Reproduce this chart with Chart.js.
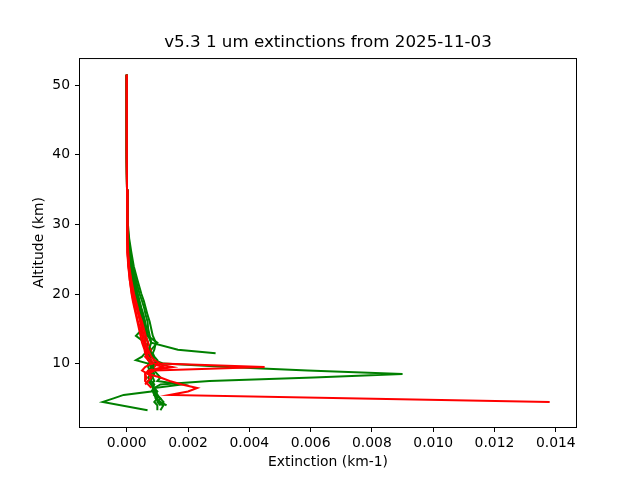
<!DOCTYPE html>
<html>
<head>
<meta charset="utf-8">
<script src="https://cdn.jsdelivr.net/npm/chart.js@4/dist/chart.umd.min.js"></script>
<style>
  html, body { margin: 0; padding: 0; background: #fff; }
  #wrap { width: 640px; height: 480px; }
</style>
</head>
<body>
<div id="wrap"><canvas id="myChart" width="640" height="480"></canvas></div>
<script>
// altitude grid (km), shared by all profiles
let altitudes = [51.5, 45, 40, 35, 30, 28, 26, 24, 22, 20, 19, 18, 17, 16, 15, 14, 13, 12, 11.5, 11, 10.5, 10, 9.5, 9, 8.5, 8, 7.5, 7, 6.5, 6, 5.5, 5, 4.5, 4, 3.3];

// green profiles (km-1), null = no value at that level
let green1 = [0, 0, 0.000005, 0.00001, 0.00003, 0.00006, 0.00012, 0.0002, 0.0003, 0.00042, 0.0005, 0.00057, 0.00062, 0.00068, 0.0007, 0.00075, 0.0008, 0.00072, 0.0008, 0.00085, 0.0009, 0.0012, 0.0033, 0.0059, 0.0090, 0.0061, 0.0027, 0.0011, 0.0009, 0.001, 0.0009, 0.0011, 0.001, 0.0011, null];
let green2 = [0, 0, 0.000005, 0.00001, 0.00002, 0.00004, 0.00009, 0.00016, 0.00026, 0.00036, 0.00042, 0.00048, 0.00055, 0.0006, 0.00065, 0.0007, 0.0008, 0.00167, 0.0029, null, null, null, null, null, null, null, null, null, null, null, null, null, null, null, null];
let green3 = [0, 0, 0.000005, 0.00001, 0.00002, 0.00005, 0.0001, 0.00017, 0.00025, 0.00035, 0.0004, 0.00046, 0.00052, 0.0006, 0.00058, 0.00065, 0.0006, 0.00068, 0.0007, 0.00075, 0.0007, 0.00085, 0.0008, 0.0009, 0.0008, 0.00085, 0.0009, 0.0008, 0.0009, 0.0008, -0.0001, -0.00043, -0.00078, null, 0.00068];
let green4 = [0, 0, 0.000005, 0.00001, 0.00004, 0.00008, 0.00015, 0.00023, 0.00035, 0.00048, 0.00056, 0.00062, 0.00068, 0.00075, 0.0008, 0.00085, 0.00095, 0.0009, 0.00085, 0.0009, 0.001, 0.0009, 0.00085, 0.0009, 0.001, 0.0011, 0.001, 0.0018, 0.0009, 0.00095, 0.001, 0.0011, 0.0012, 0.0011, null];
let green5 = [0, 0, 0.000005, 0.00001, 0.00002, 0.00003, 0.00006, 0.0001, 0.00018, 0.00028, 0.00034, 0.0004, 0.00046, 0.0005, 0.00052, 0.0003, 0.0006, 0.0007, 0.0006, 0.0005, 0.0003, 0.0007, 0.0008, 0.0007, 0.00075, 0.0008, 0.0007, 0.0008, 0.00085, 0.0009, 0.00095, 0.001, 0.0009, 0.001, 0.001];
let green6 = [0, 0, 0.000005, 0.00001, 0.00003, 0.00005, 0.0001, 0.00015, 0.00022, 0.00032, 0.00038, 0.00044, 0.0005, 0.00056, 0.0006, 0.00068, 0.001, 0.0008, 0.00075, 0.0007, 0.0008, 0.00072, 0.0007, 0.00075, 0.0008, 0.0007, 0.00075, 0.0008, 0.0009, 0.00085, 0.0009, 0.00095, 0.00105, 0.0012, 0.0011];
let green7 = [0, 0, 0.000005, 0.00001, 0.00002, 0.00004, 0.00008, 0.00013, 0.0002, 0.0003, 0.00036, 0.00042, 0.00048, 0.00054, 0.00058, 0.00062, 0.0007, 0.00065, 0.0007, 0.0008, 0.00075, 0.0009, 0.0008, 0.00085, 0.0009, 0.0008, 0.0008, 0.0009, 0.00085, 0.0009, 0.001, 0.00095, 0.0011, 0.0013, null];

// red profiles (km-1)
let red1 = [0, 0, 0.000005, 0.00001, 0.00002, 0.00003, 0.00005, 0.00008, 0.00015, 0.00024, 0.0003, 0.00036, 0.0004, 0.00045, 0.0005, 0.00055, 0.0006, 0.00065, 0.0007, 0.0006, 0.0007, 0.0008, 0.0006, 0.0005, 0.0007, 0.0011, 0.0014, 0.0018, 0.0023, 0.002, 0.0014, 0.0076, 0.0138, null, null];
let red2 = [0, 0, 0.000005, 0.00001, 0.00002, 0.00003, 0.00004, 0.00006, 0.00012, 0.0002, 0.00026, 0.00032, 0.00038, 0.00044, 0.0005, 0.00056, 0.00062, 0.0007, 0.00075, 0.0008, 0.0009, 0.0011, 0.0045, 0.0009, 0.0007, 0.0008, 0.0007, 0.0006, null, null, null, null, null, null, null];
let red3 = [0, 0, 0.000005, 0.00001, 0.00001, 0.00002, 0.00003, 0.00005, 0.0001, 0.00017, 0.00022, 0.00027, 0.00032, 0.00037, 0.00045, 0.0005, 0.00055, 0.0006, 0.00065, 0.0007, 0.0008, 0.0009, 0.0015, 0.0008, 0.0006, 0.0006, 0.0006, 0.0007, 0.0008, null, null, null, null, null, null];
let red4 = [0, 0, 0.000005, 0.00001, 0.00002, 0.00003, 0.00005, 0.00007, 0.00013, 0.00022, 0.00028, 0.00034, 0.00042, 0.0005, 0.00056, 0.00062, 0.0007, 0.00078, 0.0008, 0.00085, 0.0009, 0.001, 0.0009, 0.0008, null, null, null, null, null, null, null, null, null, null, null];
let red5 = [0, 0, 0.000005, 0.00001, 0.00001, 0.00002, 0.00004, 0.00006, 0.0001, 0.00016, 0.0002, 0.00025, 0.0003, 0.00035, 0.0004, 0.00045, 0.0005, 0.00058, 0.0006, 0.00065, 0.0007, 0.0008, 0.0012, 0.0007, 0.0006, 0.00065, 0.0006, null, null, null, null, null, null, null, null];

// tick labels
let xTicks = [0, 0.002, 0.004, 0.006, 0.008, 0.010, 0.012, 0.014];
let yTicks = [10, 20, 30, 40, 50];

function profile(ext, color) {
    return {
        data: altitudes.map((a, i) => ({ x: ext[i], y: a })).filter(p => p.x !== null),
        borderColor: color,
        backgroundColor: color,
        borderWidth: 2,
        showLine: true,
        pointRadius: 0,
        tension: 0
    };
}

// first dataset is drawn on top in Chart.js
let datasets = [
    profile(red1, '#ff0000'),
    profile(red2, '#ff0000'),
    profile(green1, '#008000'),
    profile(red3, '#ff0000'),
    profile(green2, '#008000'),
    profile(green4, '#008000'),
    profile(red4, '#ff0000'),
    profile(red5, '#ff0000'),
    profile(green3, '#008000'),
    profile(green5, '#008000'),
    profile(green6, '#008000'),
    profile(green7, '#008000')
];

let frame = {
    id: 'frame',
    afterDraw(chart) {
        let a = chart.chartArea, c = chart.ctx;
        c.save();
        c.strokeStyle = '#000';
        c.lineWidth = 1;
        c.strokeRect(a.left - 0.5, a.top + 0.5, a.right - a.left + 1, a.bottom - a.top);
        c.restore();
    }
};

let font = { family: 'DejaVu Sans', size: 13.9 };

new Chart(document.getElementById('myChart'), {
    type: 'scatter',
    data: { datasets: datasets },
    plugins: [frame],
    options: {
        responsive: false,
        animation: false,
        devicePixelRatio: 1,
        // left 16 so the title centres over the axes (x = 328)
        layout: { padding: { left: 16, right: 0, top: 0, bottom: 0 } },
        plugins: {
            legend: { display: false },
            tooltip: { enabled: false },
            title: {
                display: true,
                text: 'v5.3 1 um extinctions from 2025-11-03',
                color: '#000',
                font: { family: 'DejaVu Sans', size: 16.7, weight: 'normal' },
                padding: { top: 33, bottom: 5 }
            }
        },
        scales: {
            x: {
                type: 'linear',
                min: -0.001524,
                max: 0.014659,
                afterBuildTicks: s => { s.ticks = xTicks.map(v => ({ value: v })); },
                afterFit: s => { s.height = 53; },
                ticks: {
                    color: '#000', font: font, padding: 3, maxRotation: 0,
                    callback: v => v.toFixed(3)
                },
                grid: { drawOnChartArea: false, drawTicks: true, tickLength: 5, tickColor: '#000' },
                border: { display: false },
                title: { display: true, text: 'Extinction (km-1)', color: '#000', font: font, padding: { top: 0, bottom: 9 } }
            },
            y: {
                type: 'linear',
                min: 0.89,
                max: 53.91,
                afterBuildTicks: s => { s.ticks = yTicks.map(v => ({ value: v })); },
                afterFit: s => { s.width = 64; },
                ticks: { color: '#000', font: font, padding: 5 },
                grid: { drawOnChartArea: false, drawTicks: true, tickLength: 5, tickColor: '#000' },
                border: { display: false },
                title: { display: true, text: 'Altitude (km)', color: '#000', font: font, padding: { top: 15, bottom: 0 } }
            },
            // empty right-hand spacer, keeps the axes at 80..576
            yspace: {
                type: 'linear',
                position: 'right',
                display: true,
                min: 0, max: 1,
                afterFit: s => { s.width = 64; },
                ticks: { display: false },
                grid: { display: false },
                border: { display: false }
            }
        }
    }
});
</script>
</body>
</html>
